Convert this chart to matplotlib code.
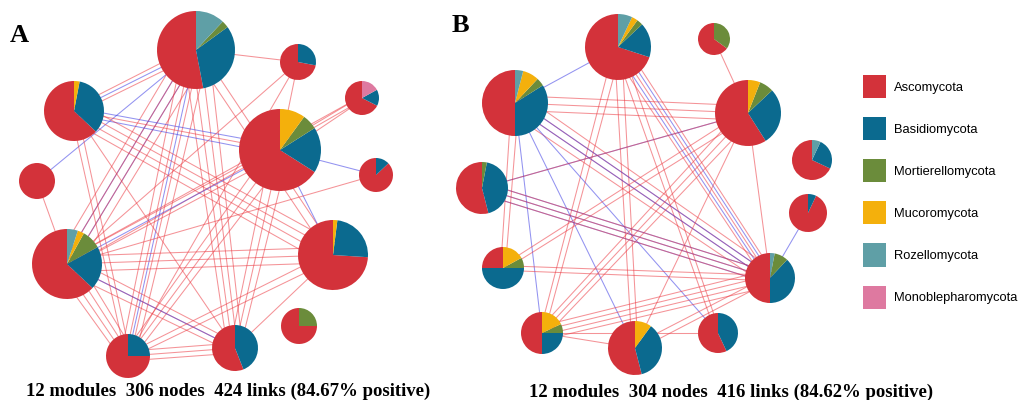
#co-occurrence networks of fungal modules, pies = phylum composition
import matplotlib.pyplot as plt
import numpy as np
from matplotlib.patches import Patch

phyla = ['Ascomycota', 'Basidiomycota', 'Mortierellomycota', 'Mucoromycota',
         'Rozellomycota', 'Monoblepharomycota']
colors = ['#d3323a', '#0b6a8f', '#6b8c3b', '#f4b00c', '#5f9fa6', '#de79a0']

# panel A modules: x, y (px from top), radius, phylum shares (same order as phyla)
a_x = [196, 298, 362, 74, 280, 37, 376, 67, 333, 299, 128, 235]
a_y = [50, 62, 98, 111, 150, 181, 175, 264, 255, 326, 356, 348]
a_r = [39, 18, 17, 30, 41, 18, 17, 35, 35, 18, 22, 23]
a_share = [
    [0.53, 0.32, 0.03, 0.00, 0.12, 0.00],
    [0.72, 0.28, 0.00, 0.00, 0.00, 0.00],
    [0.675, 0.155, 0.00, 0.00, 0.00, 0.17],
    [0.63, 0.34, 0.00, 0.03, 0.00, 0.00],
    [0.66, 0.18, 0.06, 0.10, 0.00, 0.00],
    [1.00, 0.00, 0.00, 0.00, 0.00, 0.00],
    [0.87, 0.13, 0.00, 0.00, 0.00, 0.00],
    [0.63, 0.20, 0.09, 0.03, 0.05, 0.00],
    [0.74, 0.24, 0.00, 0.02, 0.00, 0.00],
    [0.75, 0.00, 0.25, 0.00, 0.00, 0.00],
    [0.75, 0.25, 0.00, 0.00, 0.00, 0.00],
    [0.56, 0.44, 0.00, 0.00, 0.00, 0.00],
]
# links between modules: (from, to, number of lines, sign)
a_links = [
    (0, 1, 1, '+'), (0, 3, 1, '-'), (0, 5, 1, '-'), (0, 7, 2, '-'), (0, 7, 4, '+'),
    (0, 10, 1, '-'), (0, 10, 4, '+'), (0, 11, 4, '+'), (0, 8, 2, '+'), (0, 3, 2, '+'),
    (3, 4, 2, '-'), (3, 4, 1, '+'), (3, 8, 4, '+'), (2, 4, 2, '+'), (2, 7, 2, '+'),
    (1, 7, 1, '+'), (1, 4, 1, '+'), (4, 6, 1, '-'), (4, 7, 1, '-'), (4, 8, 1, '-'),
    (4, 10, 3, '+'), (4, 11, 3, '+'), (6, 7, 1, '+'), (5, 7, 1, '+'), (7, 8, 3, '+'),
    (7, 10, 4, '+'), (7, 11, 3, '+'), (7, 11, 1, '-'), (10, 11, 3, '+'), (8, 10, 2, '+'),
    (8, 11, 1, '+'), (3, 10, 2, '+'), (3, 11, 1, '+'), (7, 4, 2, '+'), (1, 10, 1, '+'),
]

# panel B modules
b_x = [618, 714, 515, 748, 812, 808, 482, 503, 770, 542, 635, 718]
b_y = [47, 39, 103, 113, 160, 213, 188, 268, 278, 333, 348, 333]
b_r = [33, 16, 33, 33, 20, 19, 26, 21, 25, 21, 27, 20]
b_share = [
    [0.70, 0.17, 0.03, 0.03, 0.07, 0.00],
    [0.65, 0.00, 0.35, 0.00, 0.00, 0.00],
    [0.50, 0.34, 0.04, 0.08, 0.04, 0.00],
    [0.59, 0.28, 0.07, 0.06, 0.00, 0.00],
    [0.68, 0.25, 0.00, 0.00, 0.07, 0.00],
    [0.93, 0.07, 0.00, 0.00, 0.00, 0.00],
    [0.54, 0.43, 0.03, 0.00, 0.00, 0.00],
    [0.25, 0.50, 0.08, 0.17, 0.00, 0.00],
    [0.50, 0.38, 0.09, 0.00, 0.03, 0.00],
    [0.50, 0.25, 0.07, 0.18, 0.00, 0.00],
    [0.54, 0.36, 0.00, 0.10, 0.00, 0.00],
    [0.57, 0.43, 0.00, 0.00, 0.00, 0.00],
]
b_links = [
    (0, 2, 1, '-'), (0, 8, 2, '-'), (0, 9, 2, '+'), (0, 10, 2, '+'), (0, 11, 2, '+'),
    (0, 8, 3, '+'), (1, 3, 1, '+'), (2, 3, 3, '+'), (2, 8, 4, '+'), (2, 8, 2, '-'),
    (2, 7, 2, '+'), (2, 9, 1, '-'), (2, 10, 1, '-'), (2, 11, 1, '-'), (3, 6, 1, '-'),
    (3, 7, 2, '+'), (3, 9, 3, '+'), (3, 10, 1, '+'), (3, 8, 1, '+'), (6, 8, 3, '-'),
    (6, 8, 3, '+'), (5, 8, 1, '-'), (7, 8, 2, '+'), (9, 8, 4, '+'), (10, 8, 2, '+'),
    (9, 11, 1, '+'), (9, 10, 1, '+'), (6, 3, 1, '+'),
]

a_caption = '12 modules  306 nodes  424 links (84.67% positive)'
b_caption = '12 modules  304 nodes  416 links (84.62% positive)'

W, H = 1019, 400
fig = plt.figure(figsize=(W / 100, H / 100), dpi=100)
ax = fig.add_axes([0, 0, 1, 1])


def draw_net(xs, ys, rs, shares, links):
    for i, j, n, sign in links:
        x0, y0 = xs[i], H - ys[i]
        x1, y1 = xs[j], H - ys[j]
        d = np.hypot(x1 - x0, y1 - y0)
        px, py = -(y1 - y0) / d, (x1 - x0) / d
        col = '#ec3a42' if sign == '+' else '#3a3ae4'
        for k in range(n):
            t = k - (n - 1) / 2
            s0, s1 = t * rs[i] * 0.22, t * rs[j] * 0.22
            ax.plot([x0 + px * s0, x1 + px * s1], [y0 + py * s0, y1 + py * s1],
                    color=col, lw=0.75, alpha=0.55, zorder=1)
    for x, y, r, sh in zip(xs, ys, rs, shares):
        ax.pie(sh, colors=colors, center=(x, H - y), radius=r, startangle=90,
               counterclock=True, wedgeprops={'linewidth': 0, 'zorder': 3})


draw_net(a_x, a_y, a_r, a_share, a_links)
draw_net(b_x, b_y, b_r, b_share, b_links)

ax.set_xlim(0, W)
ax.set_ylim(0, H)
ax.set_aspect('equal')
ax.axis('off')

ax.text(10, H - 36, 'A', fontsize=19, fontweight='bold', family='Liberation Serif', va='center')
ax.text(452, H - 25, 'B', fontsize=19, fontweight='bold', family='Liberation Serif', va='center')
ax.text(228, H - 391, a_caption, fontsize=13.5, fontweight='bold', family='Liberation Serif',
        ha='center', va='center')
ax.text(731, H - 392, b_caption, fontsize=13.5, fontweight='bold', family='Liberation Serif',
        ha='center', va='center')

handles = [Patch(facecolor=c, edgecolor='none') for c in colors]
fig.legend(handles, phyla, loc='upper left', bbox_to_anchor=(863 / W, 1 - 75 / H),
           frameon=False, borderpad=0, borderaxespad=0,
           prop={'family': 'Liberation Sans', 'size': 9.25},
           handlelength=1.8, handleheight=2.39, labelspacing=1.48, handletextpad=0.6)

fig.savefig('out.png', dpi=100)
